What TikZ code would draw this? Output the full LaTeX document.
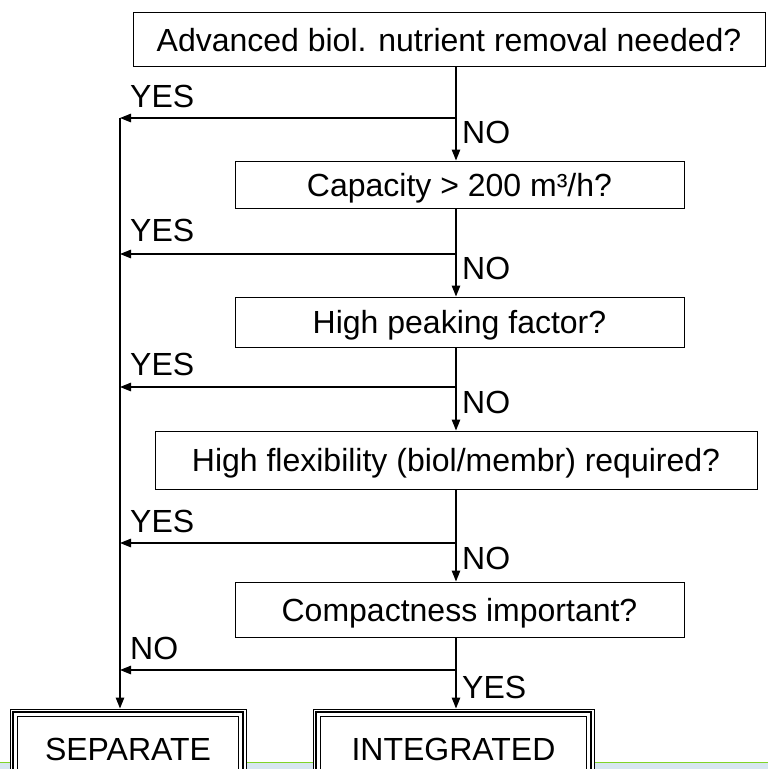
\documentclass[tikz,border=0pt]{standalone}
\usepackage{fontspec}
\setmainfont{Liberation Sans}
\usetikzlibrary{arrows.meta}
\definecolor{bandgreen}{RGB}{128,212,40}
\definecolor{bandblue}{RGB}{214,230,240}
\begin{document}
\begin{tikzpicture}[x=1pt,y=-1pt,
  box/.style={draw, line width=1pt, fill=white, inner sep=0pt, text height=23pt, text depth=0pt, font=\fontsize{32}{38}\selectfont},
  lab/.style={inner sep=0pt, anchor=west, font=\fontsize{32}{38}\selectfont},
  arr/.style={line width=1.2pt, -{Triangle[length=11pt,width=8.5pt]}},
  thinline/.style={line width=1pt},
  thickline/.style={line width=2.2pt}]
\useasboundingbox (0,0) rectangle (768,769);
\clip (0,0) rectangle (768,769);
\fill[bandblue] (0,762.5) rectangle (768,769);
\draw[bandgreen, line width=1.5pt] (0,762.5) -- (768,762.5);

\node[box, minimum width=632pt, minimum height=54pt] (b1) at (449,39.5) {Advanced biol. nutrient removal needed?};
\node[box, minimum width=449pt, minimum height=47pt] (b2) at (459.5,184.5) {Capacity > 200 m³/h?};
\node[box, minimum width=449pt, minimum height=50pt] (b3) at (459.5,322) {High peaking factor?};
\node[box, minimum width=602pt, minimum height=58pt] (b4) at (456,460) {High flexibility (biol/membr) required?};
\node[box, minimum width=449pt, minimum height=55pt] (b5) at (459.5,609.5) {Compactness important?};

\node[box, minimum width=236pt, minimum height=80pt] (sep) at (128,749) {SEPARATE};
\node[box, minimum width=281pt, minimum height=80pt] (int) at (453.5,749) {INTEGRATED};
\foreach \n in {sep,int}{
  \draw[thickline] ([shift={(3.6,3.6)}]\n.north west) rectangle ([shift={(-3.6,-3.6)}]\n.south east);
  \draw[thinline] ([shift={(8.2,8.2)}]\n.north west) rectangle ([shift={(-8.2,-8.2)}]\n.south east);
}

\coordinate (m1) at (456,118);
\coordinate (m2) at (456,254);
\coordinate (m3) at (456,387);
\coordinate (m4) at (456,543);
\coordinate (m5) at (456,670);
\coordinate (l1) at (120,118);
\coordinate (l2) at (120,254);
\coordinate (l3) at (120,387);
\coordinate (l4) at (120,543);
\coordinate (l5) at (120,670);

\draw[arr] (b1.south -| m1) -- (b2.north -| m1);
\draw[arr] (b2.south -| m1) -- (b3.north -| m1);
\draw[arr] (b3.south -| m1) -- (b4.north -| m1);
\draw[arr] (b4.south -| m1) -- (b5.north -| m1);
\draw[arr] (b5.south -| m1) -- (int.north -| m1);

\draw[arr] (m1) -- (l1);
\draw[arr] (m2) -- (l2);
\draw[arr] (m3) -- (l3);
\draw[arr] (m4) -- (l4);
\draw[arr] (m5) -- (l5);
\draw[arr] (l1) -- (sep.north -| l1);

\node[lab] (y1) at (130,96) {YES};
\node[lab] (y2) at (130,230) {YES};
\node[lab] (y3) at (130,364) {YES};
\node[lab] (y4) at (130,521) {YES};
\node[lab] (n5) at (130,648) {NO};
\node[lab] (n1) at (462,132) {NO};
\node[lab] (n2) at (462,268) {NO};
\node[lab] (n3) at (462,402) {NO};
\node[lab] (n4) at (462,558) {NO};
\node[lab] (y5) at (462,687) {YES};
\end{tikzpicture}
\end{document}
